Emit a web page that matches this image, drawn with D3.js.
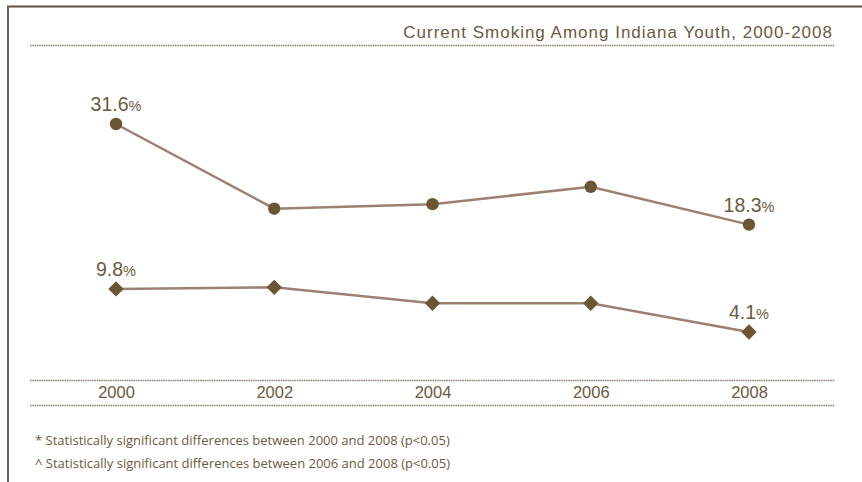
<!DOCTYPE html>
<html>
<head>
<meta charset="utf-8">
<script src="https://cdn.jsdelivr.net/npm/d3@7"></script>
<style>
  html, body { margin: 0; padding: 0; background: #ffffff; }
  svg { display: block; }
</style>
</head>
<body>
<svg id="chart" width="862" height="482"></svg>
<script>
// Survey years and smoking rates (%) for the two youth groups
const years = ["2000", "2002", "2004", "2006", "2008"];
const highSchool = [31.6, 20.4, 21.0, 23.3, 18.3];
const middleSchool = [9.8, 10.0, 7.9, 7.9, 4.1];
const titleText = "Current Smoking Among Indiana Youth, 2000-2008";
const footnotes = [
  "* Statistically significant differences between 2000 and 2008 (p<0.05)",
  "^ Statistically significant differences between 2006 and 2008 (p<0.05)"
];

const textColor = "#6b5a3c";
const lineColor = "#9c8070";
const markColor = "#6b5532";
const ruleColor = "#8f7f66";
const sans = "'Liberation Sans', Arial, sans-serif";

const svg = d3.select("#chart");

// frame: top and left edges
svg.append("line").attr("x1", 7).attr("x2", 862).attr("y1", 6.5).attr("y2", 6.5)
  .attr("stroke", "#5a4e40").attr("stroke-width", 2);
svg.append("line").attr("x1", 8).attr("x2", 8).attr("y1", 6).attr("y2", 482)
  .attr("stroke", "#6e6252").attr("stroke-width", 2);

// title and rule beneath it
svg.append("text").attr("x", 833).attr("y", 38).attr("text-anchor", "end")
  .attr("font-family", sans).attr("font-size", 17).attr("fill", textColor)
  .attr("letter-spacing", 1.0)
  .text(titleText);

function rule(y) {
  svg.append("line").attr("x1", 30).attr("x2", 835).attr("y1", y).attr("y2", y)
    .attr("stroke", ruleColor).attr("stroke-width", 1.5).attr("stroke-dasharray", "1.5,0.8");
}
rule(45.5);
rule(380.5);
rule(405.5);

const x = d3.scalePoint().domain(years).range([116, 749]);
const y = d3.scaleLinear().domain([0, 31.6]).range([363, 124]);

// year labels along the bottom band
const axis = d3.axisBottom(x).tickSize(0).tickPadding(0);
const gAxis = svg.append("g").attr("transform", "translate(0,386)").call(axis);
gAxis.select(".domain").remove();
gAxis.selectAll("text").attr("font-family", sans).attr("font-size", 16.5)
  .attr("fill", textColor).attr("dy", "0.71em");

const line = d3.line().x((d, i) => x(years[i])).y(d => y(d));

svg.append("path").datum(highSchool).attr("d", line)
  .attr("fill", "none").attr("stroke", lineColor).attr("stroke-width", 2.5);
svg.append("path").datum(middleSchool).attr("d", line)
  .attr("fill", "none").attr("stroke", lineColor).attr("stroke-width", 2.5);

svg.selectAll("circle.hs").data(highSchool).join("circle").attr("class", "hs")
  .attr("cx", (d, i) => x(years[i])).attr("cy", d => y(d)).attr("r", 6.2)
  .attr("fill", markColor);

const diamond = d3.symbol().type(d3.symbolDiamond2).size(150);
svg.selectAll("path.ms").data(middleSchool).join("path").attr("class", "ms")
  .attr("transform", (d, i) => `translate(${x(years[i])},${y(d)})`)
  .attr("d", diamond).attr("fill", markColor);

// value labels at the first and last year of each series
function valueLabel(series, idx) {
  const v = series[idx];
  const t = svg.append("text")
    .attr("x", x(years[idx])).attr("y", y(v) - 13)
    .attr("text-anchor", "middle").attr("font-family", sans).attr("fill", textColor);
  t.append("tspan").attr("font-size", 19.5).text(v.toFixed(1));
  t.append("tspan").attr("font-size", 14.5).text("%");
}
valueLabel(highSchool, 0);
valueLabel(highSchool, 4);
valueLabel(middleSchool, 0);
valueLabel(middleSchool, 4);

// footnotes
svg.selectAll("text.note").data(footnotes).join("text").attr("class", "note")
  .attr("x", 35).attr("y", (d, i) => 445 + i * 23)
  .attr("font-family", "'Open Sans', sans-serif").attr("font-size", 13)
  .attr("fill", textColor).text(d => d);
</script>
</body>
</html>
